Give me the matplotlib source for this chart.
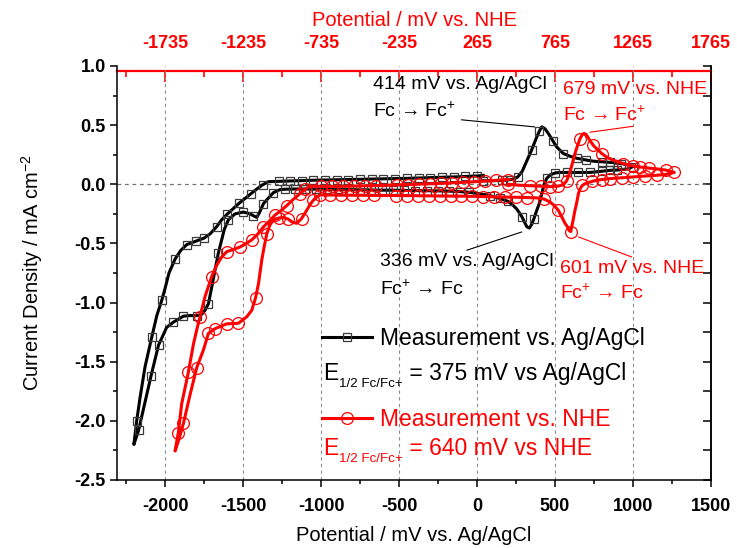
import numpy as np
import matplotlib
matplotlib.use("Agg")
import matplotlib.pyplot as plt
from matplotlib.lines import Line2D
from matplotlib.ticker import MultipleLocator

plt.rcParams['font.family'] = ['Liberation Sans', 'DejaVu Sans']
plt.rcParams['mathtext.fontset'] = 'custom'
plt.rcParams['mathtext.rm'] = 'Liberation Sans'
plt.rcParams['axes.unicode_minus'] = False

# offset between the two reference scales (mV)
shift = 265

# measurement vs. Ag/AgCl, in sweep order
E_ag = [40, 100, 160, 220, 260, 290, 320, 350, 383, 400, 415, 435, 457, 485, 511, 553, 600, 639, 700,
        746, 800, 853, 920, 970, 1000,
        970, 900, 853, 800, 724, 650, 580, 532, 500, 470, 447, 430, 415, 400, 383, 365, 350, 336, 320,
        308, 290, 276, 255, 233, 200, 147, 80, 19, -50, -109, -180, -250, -320, -400, -470, -540,
        -610, -680, -750, -820, -890, -960, -1030, -1100, -1170, -1230,
        -1263, -1305, -1340, -1369, -1395, -1412, -1435, -1455, -1498, -1551, -1594, -1620, -1637,
        -1659, -1680, -1701, -1722, -1744, -1765, -1797, -1840, -1882, -1946, -1990, -2042, -2090,
        -2130, -2170, -2200,
        -2182, -2160, -2128, -2085, -2053, -2021, -2000, -1975, -1935, -1900, -1861, -1800, -1750,
        -1712, -1670, -1637, -1600, -1562, -1525, -1487, -1450, -1412, -1375, -1338, -1270, -1200,
        -1125, -1050, -975, -900, -825, -750, -675, -600, -525, -450, -375, -300, -225, -150, -75,
        0, 40]
j_ag = [0.03, 0.03, 0.032, 0.04, 0.06, 0.11, 0.2, 0.29, 0.40, 0.45, 0.485, 0.47, 0.43, 0.37, 0.315,
        0.26, 0.235, 0.22, 0.205, 0.195, 0.19, 0.185, 0.175, 0.165, 0.15,
        0.13, 0.12, 0.118, 0.11, 0.10, 0.10, 0.10, 0.10, 0.095, 0.08, 0.05, 0.0, -0.08, -0.16, -0.22,
        -0.29, -0.34, -0.37, -0.36, -0.33, -0.28, -0.25, -0.21, -0.18, -0.145, -0.12, -0.095, -0.08,
        -0.068, -0.062, -0.058, -0.056, -0.055, -0.053, -0.052, -0.05, -0.05, -0.048, -0.047,
        -0.045, -0.044, -0.042, -0.041, -0.04, -0.04, -0.042,
        -0.045, -0.07, -0.12, -0.163, -0.24, -0.28, -0.265, -0.25, -0.235, -0.25, -0.30, -0.38,
        -0.47, -0.585, -0.73, -0.87, -1.01, -1.065, -1.10, -1.11, -1.11, -1.115, -1.165, -1.21,
        -1.36, -1.62, -1.85, -2.08, -2.20,
        -2.0, -1.80, -1.54, -1.29, -1.11, -0.98, -0.88, -0.75, -0.63, -0.56, -0.51, -0.48, -0.455,
        -0.42, -0.36, -0.30, -0.25, -0.205, -0.16, -0.12, -0.08, -0.04, -0.005, 0.022, 0.025, 0.028,
        0.031, 0.034, 0.036, 0.038, 0.040, 0.042, 0.044, 0.046, 0.048, 0.050, 0.053, 0.056, 0.059,
        0.062, 0.066, 0.07, 0.075]

# measurement vs. NHE, in sweep order
E_nhe = [200, 270, 340, 410, 468, 520, 553, 575, 595, 610, 628, 645, 660, 675, 686, 700, 724, 745, 767,
         800, 831, 870, 938, 1000, 1045, 1100, 1152, 1210, 1265,
         1210, 1152, 1080, 1002, 930, 853, 800, 767, 740, 715, 692, 675, 660, 650, 640, 628, 618, 610,
         601, 590, 580, 564, 545, 521, 495, 468, 430, 383, 320, 250, 180, 110, 40, -30, -100, -170,
         -240, -310, -380, -450, -520, -590, -660, -730, -800, -870, -940,
         -1006, -1030, -1049, -1070, -1092, -1125, -1156, -1185, -1210, -1241, -1270,
         -1305, -1330, -1348, -1365, -1380, -1401, -1420, -1444, -1476, -1530, -1605, -1679, -1722,
         -1754, -1797, -1840, -1882, -1910, -1936,
         -1915, -1894, -1872, -1851, -1818, -1795, -1776, -1744, -1701, -1669, -1640, -1605, -1560,
         -1519, -1480, -1444, -1405, -1369, -1330, -1295, -1255, -1220, -1180, -1135, -1100, -1071,
         -1000, -930, -860, -790, -720, -650, -580, -510, -440, -370, -300, -230, -160, -90, -20, 50,
         120, 200]
j_nhe = [0.0, -0.008, -0.012, -0.016, -0.02, -0.015, -0.005, 0.03, 0.1, 0.17, 0.26, 0.33, 0.385,
         0.42, 0.43, 0.42, 0.37, 0.33, 0.30, 0.26, 0.23, 0.205, 0.175, 0.155, 0.146, 0.137, 0.13,
         0.12, 0.10,
         0.083, 0.076, 0.07, 0.062, 0.055, 0.048, 0.04, 0.034, 0.025, 0.015, 0.005, -0.01, -0.04,
         -0.08, -0.15, -0.22, -0.29, -0.34, -0.40, -0.39, -0.36, -0.33, -0.28, -0.22, -0.18, -0.15,
         -0.125, -0.115, -0.112, -0.11, -0.108, -0.106, -0.104, -0.102, -0.10, -0.10, -0.099,
         -0.098, -0.097, -0.096, -0.095, -0.095, -0.094, -0.093, -0.093, -0.092, -0.091,
         -0.09, -0.11, -0.135, -0.17, -0.22, -0.29, -0.33, -0.32, -0.295, -0.28, -0.285,
         -0.30, -0.35, -0.42, -0.53, -0.64, -0.84, -0.96, -1.065, -1.12, -1.175, -1.18, -1.22, -1.26,
         -1.40, -1.55, -1.78, -2.02, -2.15, -2.255,
         -2.1, -1.86, -1.72, -1.59, -1.35, -1.22, -1.12, -0.95, -0.78, -0.685, -0.62, -0.57, -0.55,
         -0.53, -0.50, -0.47, -0.42, -0.36, -0.31, -0.26, -0.22, -0.18, -0.13, -0.08, -0.04, -0.015,
         -0.018, -0.018, -0.017, -0.015, -0.013, -0.011, -0.008, -0.005, -0.002, 0.001, 0.004, 0.008,
         0.012, 0.016, 0.021, 0.027, 0.033, 0.04]

x_ticks = [-2000, -1500, -1000, -500, 0, 500, 1000, 1500]
nhe_ticks = [t + shift for t in x_ticks]
y_ticks = [1.0, 0.5, 0.0, -0.5, -1.0, -1.5, -2.0, -2.5]


def marker_idx(E, step):
    # markers spaced evenly in swept potential, like the recorded data
    d = np.concatenate([[0], np.cumsum(np.abs(np.diff(E)))])
    idx = np.searchsorted(d, np.arange(0, d[-1], step))
    return sorted(set(int(i) for i in idx))


fig = plt.figure(figsize=(7.37, 5.48), dpi=100)
ax = fig.add_axes([0.1588, 0.1241, 0.8059, 0.7555])

ax.plot(E_ag, j_ag, color='black', lw=2.2, marker='s', ms=6, mfc='none', mec='#3a3a3a',
        mew=0.9, markevery=marker_idx(E_ag, 72), zorder=3)
ax.plot(E_nhe, j_nhe, color='red', lw=2.2, marker='o', ms=8.5, mfc='none', mec='red',
        mew=0.9, markevery=marker_idx(E_nhe, 75), zorder=4)

ax.set_xlim(-2308, 1500)
ax.set_ylim(-2.5, 1.0)
ax.set_xticks(x_ticks)
ax.set_yticks(y_ticks)
ax.xaxis.set_minor_locator(MultipleLocator(250))
ax.yaxis.set_minor_locator(MultipleLocator(0.25))
ax.yaxis.set_major_formatter(plt.FormatStrFormatter('%.1f'))
ax.tick_params(which='both', direction='out', top=False, right=False, width=1.1)
ax.tick_params(which='major', length=5, labelsize=13)
ax.tick_params(which='minor', length=3)
ax.tick_params(axis='x', which='major', pad=8)
ax.tick_params(axis='y', which='major', pad=3)
for lab in ax.get_xticklabels() + ax.get_yticklabels():
    lab.set_fontweight('bold')
ax.spines['top'].set_visible(False)
for s in ['left', 'bottom', 'right']:
    ax.spines[s].set_linewidth(1.1)

ax.grid(axis='x', which='major', color='#8c8c8c', ls=(0, (3, 3)), lw=0.8)
ax.axhline(0, color='#707070', ls=(0, (3, 3)), lw=0.9, zorder=1)

ax.set_xlabel('Potential / mV vs. Ag/AgCl', fontsize=14.5, labelpad=8)
ax.set_ylabel('Current Density / mA cm$^{-2}$', fontsize=14.5, labelpad=21)

# right ticks, pointing inwards
ry = ax.secondary_yaxis('right', functions=(lambda y: y, lambda y: y))
ry.set_yticks(np.arange(-2.5, 1.01, 0.25))
ry.tick_params(direction='in', length=6, width=1.1, labelright=False)
ry.spines['right'].set_linewidth(1.1)

# top NHE axis
top = ax.secondary_xaxis(0.988, functions=(lambda x: x + shift, lambda x: x - shift))
top.set_xticks(nhe_ticks)
top.set_xticks(np.arange(nhe_ticks[0] - 250, nhe_ticks[-1] + 1, 250), minor=True)
top.spines['top'].set_color('red')
top.spines['top'].set_linewidth(1.6)
top.tick_params(which='both', direction='in', colors='red', width=1.2)
top.tick_params(which='major', length=8, labelsize=13, pad=14)
top.tick_params(which='minor', length=4)
for lab in top.get_xticklabels():
    lab.set_fontweight('bold')
top.set_xlabel('Potential / mV vs. NHE', color='red', fontsize=14.5, labelpad=6)

# peak annotations
fs_note = 14
ax.text(-667, 0.845, '414 mV vs. Ag/AgCl', fontsize=fs_note, va='center')
ax.text(-667, 0.62, 'Fc \u2192 Fc$^{+}$', fontsize=fs_note, va='center')
ax.annotate('', xy=(370, 0.485), xytext=(-100, 0.545),
            arrowprops=dict(arrowstyle='-', color='black', lw=0.8, shrinkA=0, shrinkB=0))

ax.text(551, 0.80, '679 mV vs. NHE', fontsize=fs_note, va='center', color='red')
ax.text(551, 0.585, 'Fc \u2192 Fc$^{+}$', fontsize=fs_note, va='center', color='red')
ax.annotate('', xy=(724, 0.44), xytext=(1000, 0.49),
            arrowprops=dict(arrowstyle='-', color='red', lw=0.8, shrinkA=0, shrinkB=0))

ax.text(-622, -0.655, '336 mV vs. Ag/AgCl', fontsize=fs_note, va='center')
ax.text(-622, -0.88, 'Fc$^{+}$ \u2192 Fc', fontsize=fs_note, va='center')
ax.annotate('', xy=(287, -0.403), xytext=(-66, -0.558),
            arrowprops=dict(arrowstyle='-', color='black', lw=0.8, shrinkA=0, shrinkB=0))

ax.text(532, -0.71, '601 mV vs. NHE', fontsize=fs_note, va='center', color='red')
ax.text(532, -0.92, 'Fc$^{+}$ \u2192 Fc', fontsize=fs_note, va='center', color='red')
ax.annotate('', xy=(650, -0.445), xytext=(992, -0.615),
            arrowprops=dict(arrowstyle='-', color='red', lw=0.8, shrinkA=0, shrinkB=0))

# legend entries
fs_leg = 16.5
h_ag = Line2D([], [], color='black', lw=2.2, marker='s', ms=6, mfc='none', mec='#3a3a3a', mew=0.9)
h_nhe = Line2D([], [], color='red', lw=2.2, marker='o', ms=8.5, mfc='none', mec='red', mew=0.9)
leg1 = ax.legend([h_ag], ['Measurement vs. Ag/AgCl'], loc='center left', bbox_to_anchor=(0.345, 0.341),
                 frameon=False, fontsize=fs_leg, handlelength=2.2, handletextpad=0.35,
                 borderpad=0, borderaxespad=0)
ax.add_artist(leg1)
leg2 = ax.legend([h_nhe], ['Measurement vs. NHE'], loc='center left', bbox_to_anchor=(0.345, 0.145),
                 frameon=False, fontsize=fs_leg, handlelength=2.2, handletextpad=0.35,
                 borderpad=0, borderaxespad=0, labelcolor='red')


def half_wave(y, value, color):
    e = ax.text(0.347, y, 'E', transform=ax.transAxes, fontsize=fs_leg, va='baseline', color=color)
    sub = ax.annotate('1/2 Fc/Fc+', xy=(1, 0), xycoords=e, xytext=(0.5, -1.5),
                      textcoords='offset points', fontsize=9.6, va='baseline', color=color)
    ax.annotate(' = ' + value, xy=(1, 0), xycoords=(sub, e), fontsize=fs_leg, va='bottom',
                color=color)


half_wave(0.2415, '375 mV vs Ag/AgCl', 'black')
half_wave(0.0604, '640 mV vs NHE', 'red')

fig.savefig('out.png', dpi=100)
